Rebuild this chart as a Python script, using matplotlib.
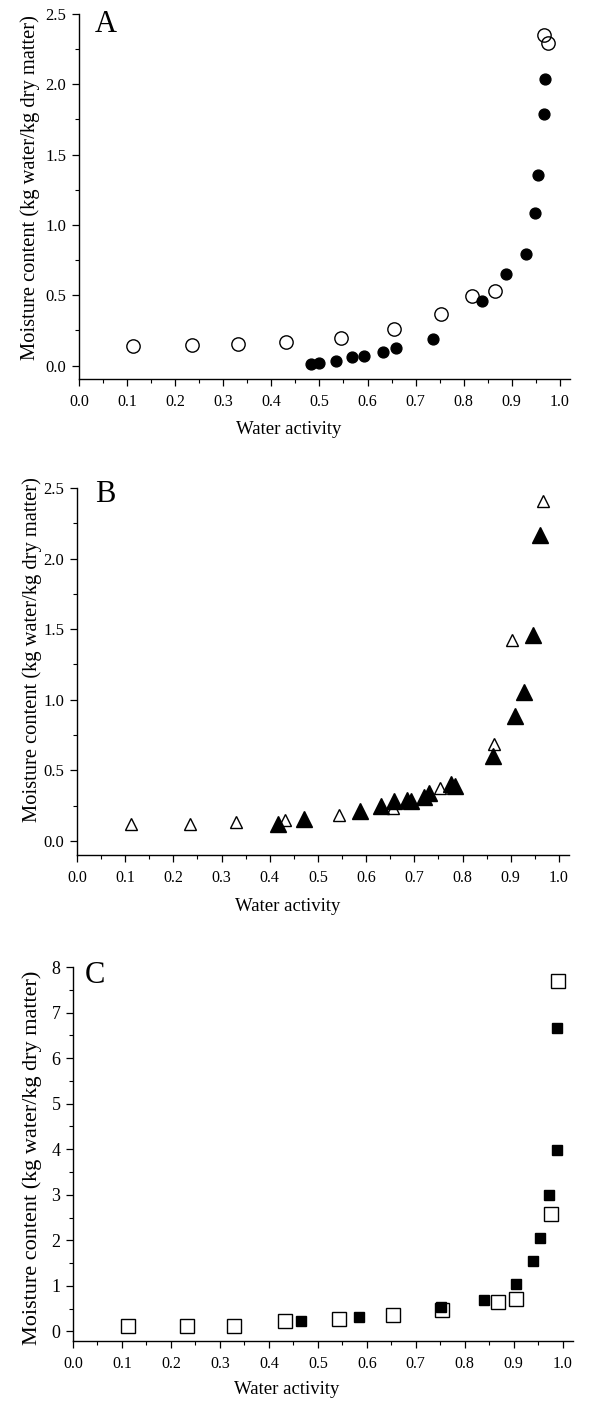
import matplotlib
matplotlib.use("Agg")
import matplotlib.pyplot as plt
from matplotlib.ticker import MultipleLocator, FormatStrFormatter

plt.rcParams['font.family'] = ['Liberation Serif', 'DejaVu Serif']

# Panel A (circles)
a_open_x = [0.113, 0.234, 0.330, 0.431, 0.544, 0.654, 0.753, 0.818, 0.866, 0.967, 0.976]
a_open_y = [0.142, 0.145, 0.154, 0.166, 0.199, 0.261, 0.370, 0.493, 0.531, 2.348, 2.294]
a_fill_x = [0.482, 0.499, 0.534, 0.568, 0.592, 0.633, 0.660, 0.737, 0.838, 0.887, 0.930, 0.948, 0.955, 0.966, 0.968]
a_fill_y = [0.009, 0.017, 0.036, 0.062, 0.069, 0.097, 0.123, 0.187, 0.463, 0.650, 0.795, 1.084, 1.354, 1.786, 2.037]

# Panel B (triangles)
b_open_x = [0.113, 0.234, 0.330, 0.432, 0.544, 0.655, 0.754, 0.866, 0.903, 0.967]
b_open_y = [0.123, 0.118, 0.135, 0.151, 0.182, 0.236, 0.378, 0.685, 1.421, 2.408]
b_fill_x = [0.417, 0.471, 0.587, 0.630, 0.658, 0.684, 0.694, 0.720, 0.731, 0.777, 0.784, 0.864, 0.909, 0.928, 0.947, 0.961]
b_fill_y = [0.123, 0.158, 0.210, 0.246, 0.283, 0.288, 0.285, 0.312, 0.340, 0.406, 0.387, 0.600, 0.885, 1.055, 1.461, 2.165]

# Panel C (squares)
c_open_x = [0.112, 0.233, 0.329, 0.432, 0.543, 0.654, 0.754, 0.867, 0.904, 0.976, 0.990]
c_open_y = [0.11, 0.11, 0.11, 0.234, 0.278, 0.351, 0.461, 0.644, 0.717, 2.57, 7.69]
c_fill_x = [0.465, 0.583, 0.752, 0.840, 0.904, 0.939, 0.953, 0.971, 0.988, 0.988]
c_fill_y = [0.227, 0.315, 0.534, 0.695, 1.047, 1.552, 2.057, 3.00, 3.99, 6.67]

xlabel = "Water activity"
ylabel = "Moisture content (kg water/kg dry matter)"

W, H = 593, 1404
fig = plt.figure(figsize=(W / 100, H / 100), dpi=100)

# axes boxes in pixels: left, right, top, bottom
panels = [
    dict(box=(79, 570, 14, 379), ylim=(-0.095, 2.5), ymaj=0.5, ymin=0.25, yfmt='%.1f',
         letter='A', lpos=(0.033, 0.951), ylab_fs=14.8, ylab_x=30, ylab_y=188, xlab_y=429, ytick_fs=12,
         series=[(a_open_x, a_open_y, 'o', 9.6, 'none'), (a_fill_x, a_fill_y, 'o', 7.8, 'black')]),
    dict(box=(77, 569, 488, 855), ylim=(-0.10, 2.5), ymaj=0.5, ymin=0.25, yfmt='%.1f',
         letter='B', lpos=(0.037, 0.962), ylab_fs=14.8, ylab_x=32, ylab_y=650, xlab_y=907, ytick_fs=12,
         series=[(b_open_x, b_open_y, '^', 8.6, 'none'), (b_fill_x, b_fill_y, '^', 12.0, 'black')]),
    dict(box=(73, 573, 967, 1341), ylim=(-0.21, 8.0), ymaj=1, ymin=0.5, yfmt='%d',
         letter='C', lpos=(0.024, 0.957), ylab_fs=16.0, ylab_x=32, ylab_y=1158, xlab_y=1390, ytick_fs=13,
         series=[(c_open_x, c_open_y, 's', 9.6, 'none'), (c_fill_x, c_fill_y, 's', 7.2, 'black')]),
]

for p in panels:
    l, r, t, b = p['box']
    ax = fig.add_axes([l / W, 1 - b / H, (r - l) / W, (b - t) / H])
    for xs, ys, m, ms, fc in p['series']:
        ax.plot(xs, ys, linestyle='none', marker=m, markersize=ms, markerfacecolor=fc,
                markeredgecolor='black', markeredgewidth=1.0)
    ax.set_xlim(0, 1.021)
    ax.set_ylim(*p['ylim'])
    ax.spines['top'].set_visible(False)
    ax.spines['right'].set_visible(False)
    for s in ('left', 'bottom'):
        ax.spines[s].set_linewidth(1.0)
    ax.xaxis.set_major_locator(MultipleLocator(0.1))
    ax.xaxis.set_minor_locator(MultipleLocator(0.05))
    ax.xaxis.set_major_formatter(FormatStrFormatter('%.1f'))
    ax.yaxis.set_major_locator(MultipleLocator(p['ymaj']))
    ax.yaxis.set_minor_locator(MultipleLocator(p['ymin']))
    ax.yaxis.set_major_formatter(FormatStrFormatter(p['yfmt']))
    ax.tick_params(which='major', direction='out', length=5, width=0.9, pad=6)
    ax.tick_params(which='minor', direction='out', length=3, width=0.8)
    ax.tick_params(axis='x', labelsize=11.5)
    ax.tick_params(axis='y', labelsize=p['ytick_fs'], pad=4)
    ax.set_xlabel(xlabel, fontsize=13.5)
    ax.set_ylabel(ylabel, fontsize=p['ylab_fs'])
    hpx = b - t
    wpx = r - l
    ax.xaxis.set_label_coords(0.428, -(p['xlab_y'] - b) / hpx)
    ax.xaxis.label.set_verticalalignment('center')
    ax.yaxis.set_label_coords((p['ylab_x'] - l) / wpx, (b - p['ylab_y']) / hpx)
    ax.yaxis.label.set_verticalalignment('center')
    ax.text(p['lpos'][0], p['lpos'][1], p['letter'], transform=ax.transAxes,
            fontsize=22, ha='left', va='baseline')

fig.savefig('out.png', dpi=100)
